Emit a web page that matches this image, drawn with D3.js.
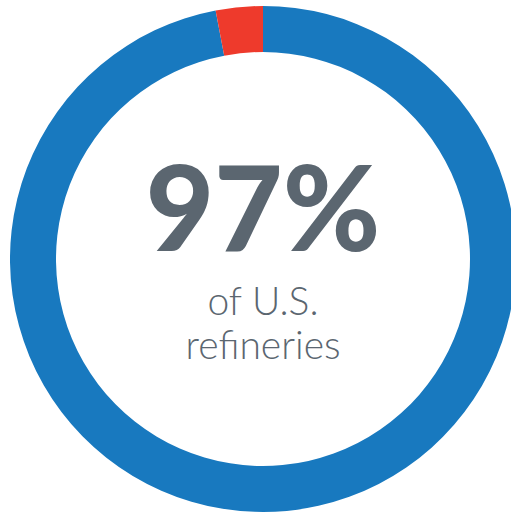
<!DOCTYPE html>
<html>
<head>
<meta charset="utf-8">
<script src="https://cdn.jsdelivr.net/npm/d3@7"></script>
<style>
  html, body { margin: 0; padding: 0; background: #fff; }
  svg { display: block; }
</style>
</head>
<body>
<svg id="chart"></svg>
<script>
// share of U.S. refineries
const labels = ["Covered", "Other"];
const values = [97, 3];
const colors = ["#1879bf", "#ee3a2c"];
const bigText = "97%";
const subLines = ["of U.S.", "refineries"];

const width = 511, height = 514;
const cx = 263, cy = 259;
const outerR = 253, innerR = 207;

const svg = d3.select("#chart").attr("width", width).attr("height", height);
const g = svg.append("g").attr("transform", `translate(${cx},${cy})`);

const pie = d3.pie().sort(null).value(d => d);
const arc = d3.arc().innerRadius(innerR).outerRadius(outerR);

g.selectAll("path")
  .data(pie(values))
  .join("path")
  .attr("d", arc)
  .attr("fill", (d, i) => colors[i]);

g.append("text")
  .attr("x", 0)
  .attr("y", -8)
  .attr("text-anchor", "middle")
  .style("font-family", "Lato, sans-serif")
  .style("font-weight", 900)
  .style("font-size", "118px")
  .attr("fill", "#5b6670")
  .text(bigText);

g.selectAll(".sub")
  .data(subLines)
  .join("text")
  .attr("class", "sub")
  .attr("x", 0)
  .attr("y", (d, i) => 56 + i * 44)
  .attr("text-anchor", "middle")
  .style("font-family", "Lato, sans-serif")
  .style("font-weight", 300)
  .style("font-size", "39px")
  .attr("fill", "#5b6670")
  .text(d => d);
</script>
</body>
</html>
